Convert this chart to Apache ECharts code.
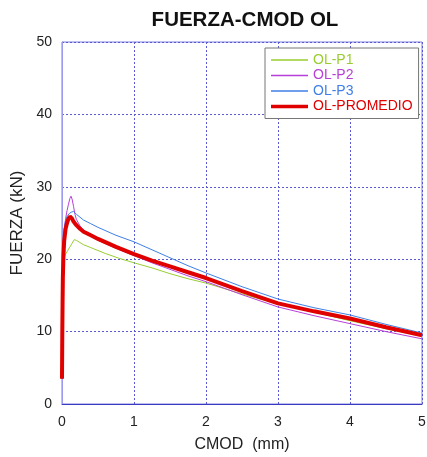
<!DOCTYPE html>
<html>
<head>
<meta charset="utf-8">
<script src="https://cdn.jsdelivr.net/npm/echarts@6/dist/echarts.min.js"></script>
<style>
  html, body { margin: 0; padding: 0; background: #fff; }
  #chart { width: 427px; height: 457px; }
</style>
</head>
<body>
<div id="chart"></div>
<script>
// CMOD (mm) and load (kN) for each specimen and the average curve
const seriesNames = ['OL-P1', 'OL-P2', 'OL-P3', 'OL-PROMEDIO'];

const cmodP1 = [0, 0.004, 0.008, 0.012, 0.02, 0.03, 0.05, 0.08, 0.11, 0.14, 0.17, 0.2, 0.25, 0.3, 0.4, 0.5, 0.6, 0.8, 1, 1.25, 1.5, 1.75, 2, 2.5, 3, 3.5, 4, 4.5, 5];
const forceP1 = [3.5, 9, 14, 17.5, 19.6, 20.2, 20.7, 21.2, 21.7, 22.2, 22.7, 22.6, 22.3, 22.0, 21.6, 21.2, 20.8, 20.1, 19.5, 18.8, 18.0, 17.3, 16.7, 15.2, 13.8, 12.7, 11.5, 10.4, 9.4];

const cmodP2 = [0, 0.004, 0.008, 0.012, 0.02, 0.03, 0.05, 0.07, 0.09, 0.11, 0.125, 0.14, 0.16, 0.18, 0.2, 0.25, 0.3, 0.4, 0.5, 0.75, 1, 1.25, 1.5, 1.75, 2, 2.5, 3, 3.5, 4, 4.5, 5];
const forceP2 = [3.5, 9, 14, 18, 22, 24, 25.6, 26.7, 27.6, 28.4, 28.7, 28.3, 27.3, 26.2, 25.5, 24.6, 24.0, 23.2, 22.6, 21.5, 20.5, 19.5, 18.6, 17.7, 16.9, 15.1, 13.4, 12.2, 11.1, 10.0, 9.0];

const cmodP3 = [0, 0.004, 0.008, 0.012, 0.02, 0.03, 0.05, 0.07, 0.1, 0.13, 0.16, 0.2, 0.25, 0.3, 0.4, 0.5, 0.75, 1, 1.25, 1.5, 1.75, 2, 2.5, 3, 3.5, 4, 4.5, 5];
const forceP3 = [3.5, 9.5, 15, 19, 22.5, 24.2, 25.3, 25.9, 26.3, 26.5, 26.6, 26.2, 25.8, 25.4, 24.9, 24.4, 23.3, 22.4, 21.3, 20.2, 19.1, 18.1, 16.2, 14.5, 13.3, 12.3, 11.0, 9.8];

const cmodAvg = [0, 0.004, 0.008, 0.012, 0.02, 0.03, 0.05, 0.07, 0.09, 0.11, 0.12, 0.14, 0.16, 0.2, 0.25, 0.3, 0.4, 0.5, 0.75, 1, 1.25, 1.5, 1.75, 2, 2.5, 3, 3.5, 4, 4.5, 5];
const forceAvg = [3.5, 9.5, 14, 17.5, 20.5, 22.5, 24.2, 25.0, 25.6, 25.9, 25.9, 25.6, 25.2, 24.7, 24.2, 23.8, 23.3, 22.8, 21.7, 20.7, 19.8, 19.0, 18.2, 17.4, 15.6, 13.9, 12.8, 11.8, 10.6, 9.5];

const xTicks = [0, 1, 2, 3, 4, 5];
const yTicks = [0, 10, 20, 30, 40, 50];

const colors = ['#9acd32', '#b83fd8', '#3f7fe6', '#e00000'];
const widths = [1, 1, 1, 4];

function pairs(xs, ys) {
  return xs.map((x, i) => [x, ys[i]]);
}
const allData = [
  pairs(cmodP1, forceP1),
  pairs(cmodP2, forceP2),
  pairs(cmodP3, forceP3),
  pairs(cmodAvg, forceAvg)
];

// legend keys: plain horizontal strokes, thicker for the average curve
const legendIcons = [
  'path://M0,0H40V1.5H0Z',
  'path://M0,0H40V1.5H0Z',
  'path://M0,0H40V1.5H0Z',
  'path://M0,0H40V4H0Z'
];

const chart = echarts.init(document.getElementById('chart'), null, { renderer: 'canvas' });

const fontFamily = 'Liberation Sans, Arial, sans-serif';

chart.setOption({
  animation: false,
  backgroundColor: '#ffffff',
  title: {
    text: 'FUERZA-CMOD OL',
    left: 240,
    textAlign: 'center',
    top: 5,
    textStyle: { fontFamily: fontFamily, fontSize: 20.5, fontWeight: 'bold', color: '#111' }
  },
  grid: {
    left: 62, right: 5, top: 42, bottom: 53,
    outerBoundsMode: 'none',
    containLabel: false,
    show: true,
    borderColor: '#8080e0',
    borderWidth: 1
  },
  legend: {
    orient: 'vertical',
    left: 265,
    top: 48,
    padding: [5, 6, 5, 6],
    itemGap: 1.5,
    itemWidth: 37,
    itemHeight: 14,
    backgroundColor: '#ffffff',
    borderColor: '#777777',
    borderWidth: 1,
    data: seriesNames.map((n, i) => ({
      name: n,
      icon: legendIcons[i],
      itemStyle: { color: colors[i] },
      textStyle: { color: colors[i], fontFamily: fontFamily, fontSize: 14 }
    }))
  },
  xAxis: {
    type: 'value',
    min: xTicks[0],
    max: xTicks[xTicks.length - 1],
    interval: 1,
    name: 'CMOD  (mm)',
    nameLocation: 'middle',
    nameGap: 33,
    nameTextStyle: { fontFamily: fontFamily, fontSize: 16, color: '#222' },
    axisLine: { show: true, lineStyle: { color: '#3a3ac0', width: 1 } },
    axisTick: { show: false },
    axisLabel: { fontFamily: fontFamily, fontSize: 14, color: '#222', margin: 11 },
    splitLine: { show: true, lineStyle: { color: '#5a5ad0', type: [2, 2], width: 1 } }
  },
  yAxis: {
    type: 'value',
    min: yTicks[0],
    max: yTicks[yTicks.length - 1],
    interval: 10,
    name: 'FUERZA (kN)',
    nameLocation: 'middle',
    nameGap: 36,
    nameTextStyle: { fontFamily: fontFamily, fontSize: 17, color: '#222' },
    axisLine: { show: true, lineStyle: { color: '#9a9aee', width: 1 } },
    axisTick: { show: false },
    axisLabel: { fontFamily: fontFamily, fontSize: 14, color: '#222', margin: 10 },
    splitLine: { show: true, lineStyle: { color: '#5a5ad0', type: [2, 2], width: 1 } }
  },
  series: seriesNames.map((n, i) => ({
    name: n,
    type: 'line',
    data: allData[i],
    symbol: 'none',
    color: colors[i],
    lineStyle: { color: colors[i], width: widths[i] },
    z: i === 3 ? 5 : 2
  }))
});
</script>
</body>
</html>
